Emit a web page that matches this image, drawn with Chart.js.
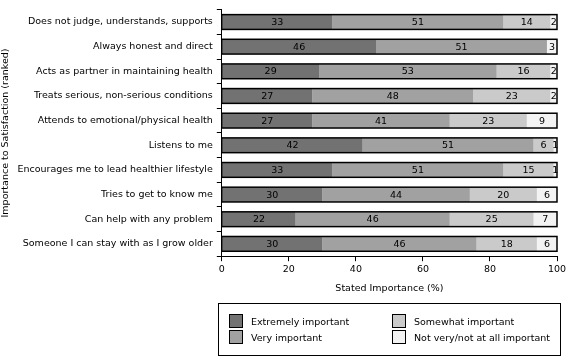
<!DOCTYPE html>
<html lang="en">
  <head>
    <meta charset="UTF-8" />
    <script src="https://cdn.jsdelivr.net/npm/chart.js"></script>
    <style>
      body {
        margin: 0;
        background: #fff;
        font-family: "DejaVu Sans", sans-serif;
      }
      #wrap {
        position: relative;
        width: 571px;
        height: 361px;
      }
      #legend {
        position: absolute;
        left: 218px;
        top: 303px;
        width: 341px;
        height: 51px;
        border: 1px solid #000;
        font-size: 9.5px;
      }
      .item {
        position: absolute;
        display: flex;
        align-items: center;
      }
      .swatch {
        width: 12px;
        height: 12px;
        border: 1px solid #000;
        margin-right: 8px;
      }
    </style>
  </head>
  <body>
    <div id="wrap">
      <canvas id="chart" width="571" height="361"></canvas>
      <div id="legend"></div>
    </div>

    <script>
      const categories = [
        "Does not judge, understands, supports",
        "Always honest and direct",
        "Acts as partner in maintaining health",
        "Treats serious, non-serious conditions",
        "Attends to emotional/physical health",
        "Listens to me",
        "Encourages me to lead healthier lifestyle",
        "Tries to get to know me",
        "Can help with any problem",
        "Someone I can stay with as I grow older",
      ];
      const extremely = [33, 46, 29, 27, 27, 42, 33, 30, 22, 30];
      const very = [51, 51, 53, 48, 41, 51, 51, 44, 46, 46];
      const somewhat = [14, 0, 16, 23, 23, 6, 15, 20, 25, 18];
      const notVery = [2, 3, 2, 2, 9, 1, 1, 6, 7, 6];
      const seriesNames = [
        "Extremely important",
        "Very important",
        "Somewhat important",
        "Not very/not at all important",
      ];
      const seriesColors = ["#727272", "#a1a1a1", "#cacaca", "#f3f3f3"];
      const xTicks = [0, 20, 40, 60, 80, 100];

      const font = { family: "DejaVu Sans", size: 9.5 };

      // numbers inside each segment + black outline round the whole bar
      const barDecor = {
        id: "barDecor",
        afterDatasetsDraw(chart) {
          const ctx = chart.ctx;
          const xs = chart.scales.x;
          ctx.save();
          ctx.font = "9.5px 'DejaVu Sans'";
          ctx.fillStyle = "#000";
          ctx.textAlign = "center";
          ctx.textBaseline = "middle";
          chart.data.datasets.forEach((ds, i) => {
            const meta = chart.getDatasetMeta(i);
            meta.data.forEach((bar, j) => {
              const v = ds.data[j];
              if (!v) return;
              const left = Math.min(bar.x, bar.base);
              const right = Math.max(bar.x, bar.base);
              ctx.fillText(String(v), (left + right) / 2, bar.y + 0.5);
            });
          });
          const first = chart.getDatasetMeta(0);
          first.data.forEach((bar, j) => {
            let total = 0;
            chart.data.datasets.forEach((ds) => (total += ds.data[j]));
            const x0 = xs.getPixelForValue(0);
            const x1 = xs.getPixelForValue(total);
            const h = bar.height;
            ctx.strokeStyle = "#000";
            ctx.lineWidth = 1.5;
            ctx.strokeRect(x0, bar.y - h / 2, x1 - x0, h);
          });
          ctx.restore();
        },
      };

      const sets = [extremely, very, somewhat, notVery];
      new Chart(document.getElementById("chart"), {
        type: "bar",
        data: {
          labels: categories,
          datasets: sets.map((d, i) => ({
            label: seriesNames[i],
            data: d,
            backgroundColor: seriesColors[i],
            borderWidth: 0,
            barPercentage: 0.6,
            categoryPercentage: 1,
          })),
        },
        options: {
          indexAxis: "y",
          responsive: false,
          animation: false,
          layout: { padding: { top: 0, right: 14, bottom: 63, left: 0 } },
          plugins: {
            legend: { display: false },
            tooltip: { enabled: false },
          },
          scales: {
            x: {
              stacked: true,
              min: 0,
              max: 100,
              afterBuildTicks: (s) => {
                s.ticks = xTicks.map((v) => ({ value: v }));
              },
              grid: {
                drawOnChartArea: false,
                color: "#000",
                tickLength: 5,
              },
              border: { color: "#000", width: 1 },
              ticks: { color: "#000", font: font, padding: 3 },
              title: {
                display: true,
                text: "Stated Importance (%)",
                color: "#000",
                font: font,
                padding: { top: 4 },
              },
            },
            y: {
              stacked: true,
              grid: {
                offset: true,
                drawOnChartArea: false,
                color: "#000",
                tickLength: 5,
              },
              border: { color: "#000", width: 1 },
              ticks: { color: "#000", font: font, padding: 4 },
              title: {
                display: true,
                text: "Importance to Satisfaction (ranked)",
                color: "#000",
                font: font,
                padding: { top: 0, bottom: 2 },
              },
            },
          },
        },
        plugins: [barDecor],
      });

      // legend box under the plot
      const legend = document.getElementById("legend");
      const spots = [
        [10, 10],
        [10, 26],
        [173, 10],
        [173, 26],
      ];
      seriesNames.forEach((name, i) => {
        const it = document.createElement("div");
        it.className = "item";
        it.style.left = spots[i][0] + "px";
        it.style.top = spots[i][1] + "px";
        it.innerHTML =
          '<span class="swatch" style="background:' +
          seriesColors[i] +
          '"></span><span>' +
          name +
          "</span>";
        legend.appendChild(it);
      });
    </script>
  </body>
</html>
